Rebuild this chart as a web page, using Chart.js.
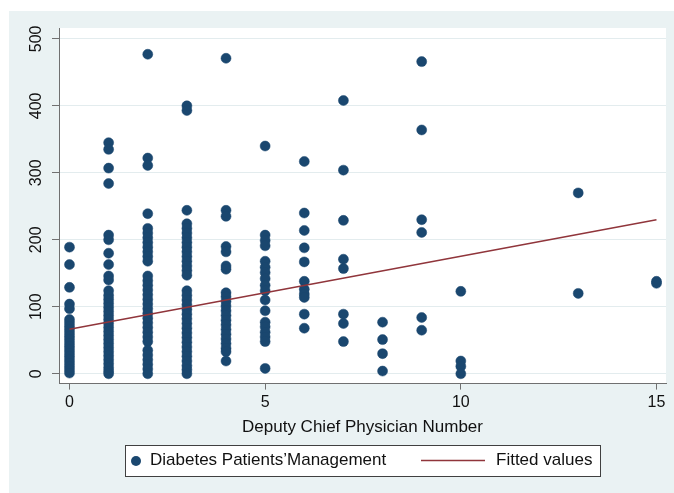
<!DOCTYPE html>
<html>
<head>
<meta charset="utf-8">
<script src="https://cdn.jsdelivr.net/npm/chart.js@4"></script>
<style>
html,body{margin:0;padding:0;background:#fff;}
#wrap{width:674px;height:493px;}
canvas{display:block;}
</style>
</head>
<body>
<div id="wrap"><canvas id="c" width="674" height="493"></canvas></div>
<script>
// ---- data ----
const xValues = [0, 1, 2, 3, 4, 5, 6, 7, 8, 9, 10, 13, 15];
const yAtX0 = [189, 163, 129, 104, 97, 81, 76, 71, 66, 61, 56, 51, 46, 41, 36, 31, 26, 21, 16, 11, 6, 1];
const yAtX1 = [345, 335, 307, 284, 207, 200, 180, 163, 146, 140, 124, 117, 111, 105, 99, 93, 87, 81, 75, 69, 63, 57, 51, 45, 39, 33, 27, 21, 15, 9, 4, 0];
const yAtX2 = [477, 322, 311, 239, 217, 210, 203, 196, 189, 182, 175, 168, 146, 139, 132, 125, 118, 111, 104, 97, 90, 83, 76, 69, 62, 55, 48, 35, 28, 21, 14, 7, 0];
const yAtX3 = [400, 393, 244, 224, 217, 210, 203, 196, 189, 182, 175, 168, 161, 154, 147, 124, 117, 110, 103, 96, 89, 82, 75, 68, 61, 54, 47, 40, 33, 26, 19, 12, 6, 0];
const yAtX4 = [471, 244, 235, 190, 182, 161, 156, 121, 115, 108, 101, 94, 87, 80, 73, 66, 59, 52, 45, 38, 33, 19];
const yAtX5 = [340, 207, 199, 191, 168, 159, 151, 142, 132, 124, 110, 94, 77, 70, 62, 55, 48, 8];
const yAtX6 = [317, 240, 214, 188, 167, 138, 126, 119, 114, 89, 68];
const yAtX7 = [408, 304, 229, 171, 157, 89, 75, 48];
const yAtX8 = [77, 51, 30, 4];
const yAtX9 = [466, 364, 230, 211, 84, 65];
const yAtX10 = [123, 19, 11, 0];
const yAtX13 = [270, 120];
const yAtX15 = [138, 135];
const yByX = [yAtX0, yAtX1, yAtX2, yAtX3, yAtX4, yAtX5, yAtX6, yAtX7, yAtX8, yAtX9, yAtX10, yAtX13, yAtX15];

const fittedX = [0, 15];
const fittedY = [66.5, 230];

const xTickValues = [0, 5, 10, 15];
const yTickValues = [0, 100, 200, 300, 400, 500];
const seriesLabels = ["Diabetes Patients\u2019Management", "Fitted values"];
const xTitle = "Deputy Chief Physician Number";

// ---- build datasets ----
const scatterPoints = [];
xValues.forEach((xv, i) => yByX[i].forEach(yv => scatterPoints.push({x: xv, y: yv})));
const fittedPoints = fittedX.map((xv, i) => ({x: xv, y: fittedY[i]}));

const FONT = "'Liberation Sans', Arial, Helvetica, sans-serif";
Chart.defaults.font.family = FONT;

const bgPlugin = {
  id: 'bg',
  beforeDraw(chart) {
    const ctx = chart.ctx, a = chart.chartArea;
    ctx.save();
    ctx.fillStyle = '#ffffff';
    ctx.fillRect(0, 0, chart.width, chart.height);
    ctx.fillStyle = '#eaf2f3';
    ctx.fillRect(9, 11, chart.width - 9, chart.height - 11);
    ctx.fillStyle = '#ffffff';
    ctx.fillRect(a.left, a.top, a.right - a.left, a.bottom - a.top);
    ctx.restore();
  }
};

const legendPlugin = {
  id: 'boxLegend',
  afterDraw(chart) {
    const ctx = chart.ctx;
    const ds = chart.data.datasets;
    ctx.save();
    ctx.fillStyle = '#ffffff';
    ctx.fillRect(125.5, 445.5, 475, 31);
    ctx.strokeStyle = '#404040';
    ctx.lineWidth = 1;
    ctx.strokeRect(125.5, 445.5, 475, 31);
    ctx.fillStyle = ds[0].backgroundColor;
    ctx.beginPath();
    ctx.arc(136, 461, 5, 0, Math.PI * 2);
    ctx.fill();
    ctx.font = "17px " + FONT;
    ctx.fillStyle = '#111111';
    ctx.textBaseline = 'middle';
    ctx.textAlign = 'left';
    ctx.fillText(ds[0].label, 150, 460.5);
    ctx.strokeStyle = ds[1].borderColor;
    ctx.lineWidth = 1.5;
    ctx.beginPath();
    ctx.moveTo(421, 460.5);
    ctx.lineTo(485, 460.5);
    ctx.stroke();
    ctx.fillText(ds[1].label, 496, 460.5);
    ctx.restore();
  }
};

new Chart(document.getElementById('c'), {
  type: 'scatter',
  data: {
    datasets: [
      {
        label: seriesLabels[0],
        data: scatterPoints,
        backgroundColor: '#1a476f',
        borderColor: '#1a476f',
        borderWidth: 0.5,
        pointRadius: 5,
        pointHoverRadius: 5,
        order: 2
      },
      {
        label: seriesLabels[1],
        data: fittedPoints,
        showLine: true,
        borderColor: '#90353b',
        backgroundColor: '#90353b',
        borderWidth: 1.5,
        pointRadius: 0,
        pointHoverRadius: 0,
        order: 1
      }
    ]
  },
  options: {
    responsive: false,
    animation: false,
    events: [],
    layout: { padding: { left: 9, top: 28, right: 8, bottom: 55 } },
    plugins: { legend: { display: false }, tooltip: { enabled: false } },
    scales: {
      x: {
        type: 'linear',
        min: -0.268,
        max: 15.243,
        afterBuildTicks: s => { s.ticks = xTickValues.map(v => ({value: v})); },
        grid: { drawOnChartArea: false, drawTicks: true, tickLength: 6, tickColor: '#707070', tickWidth: 1 },
        border: { color: '#707070', width: 1 },
        ticks: { padding: 5, color: '#111111', font: { size: 16, lineHeight: 1 } },
        title: { display: true, text: xTitle, color: '#111111', font: { size: 17 }, padding: { top: 2, bottom: 0 } }
      },
      y: {
        type: 'linear',
        min: -14.7,
        max: 516.2,
        afterBuildTicks: s => { s.ticks = yTickValues.map(v => ({value: v})); },
        afterFit: s => { s.width = 50; },
        grid: { color: '#e3ecee', lineWidth: 1, drawTicks: true, tickLength: 7, tickColor: '#707070', tickWidth: 1 },
        border: { color: '#707070', width: 1 },
        ticks: { minRotation: 90, maxRotation: 90, crossAlign: 'center', padding: 2, color: '#111111', font: { size: 16 } }
      }
    }
  },
  plugins: [bgPlugin, legendPlugin]
});
</script>
</body>
</html>
